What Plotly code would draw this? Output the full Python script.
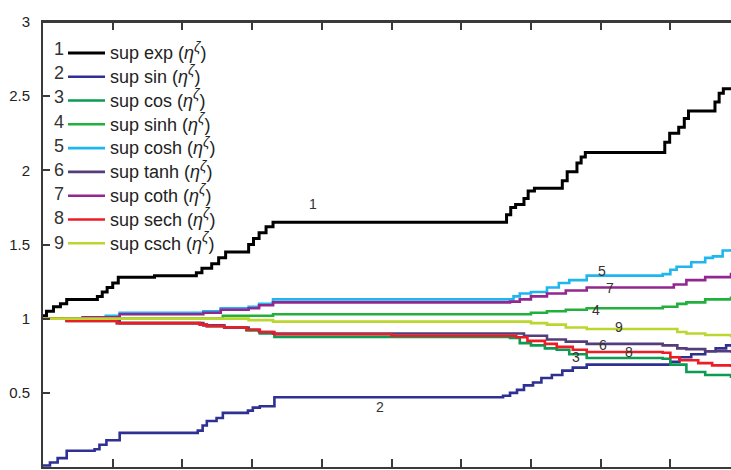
import plotly.graph_objects as go

# ---- data (x in axis units, y values) ----
names = ["exp", "sin", "cos", "sinh", "cosh", "tanh", "coth", "sech", "csch"]
colors = ["#000000", "#2e3192", "#0b9b52", "#22b03c", "#1fb6f0",
          "#553c7b", "#93278f", "#ee1c24", "#bcd630"]

x1 = [0, 0.05, 0.15, 0.25, 0.34, 0.78, 0.85, 0.92, 1.0, 1.08, 1.6, 2.2, 2.28, 2.42, 2.52, 2.62,
      2.95, 3.02, 3.1, 3.2, 3.3, 6.65, 6.71, 6.78, 6.9, 6.96, 7.05, 7.45, 7.52, 7.66, 7.72,
      7.78, 8.92, 8.99, 9.12, 9.2, 9.26, 9.64, 9.7, 9.76, 9.87]
y1 = [1.02, 1.05, 1.08, 1.1, 1.13, 1.15, 1.18, 1.21, 1.24, 1.28, 1.29, 1.31, 1.34, 1.37, 1.41, 1.45,
      1.5, 1.54, 1.58, 1.62, 1.65, 1.7, 1.75, 1.77, 1.81, 1.86, 1.88, 1.93, 1.99, 2.05, 2.09,
      2.12, 2.19, 2.25, 2.29, 2.35, 2.4, 2.46, 2.52, 2.55, 2.56]

x2 = [0, 0.1, 0.21, 0.34, 0.74, 0.81, 0.91, 1.1, 2.22, 2.29, 2.35, 2.49, 2.58, 2.94, 3.01,
      3.11, 3.32, 6.6, 6.7, 6.8, 6.9, 7.03, 7.15, 7.3, 7.45, 7.6, 7.8, 8.89, 9.0, 9.13, 9.3,
      9.5, 9.65, 9.8, 9.87]
y2 = [0.01, 0.03, 0.06, 0.11, 0.12, 0.15, 0.18, 0.23, 0.245, 0.28, 0.31, 0.33, 0.365, 0.38, 0.40,
      0.41, 0.47, 0.48, 0.5, 0.52, 0.55, 0.57, 0.6, 0.62, 0.65, 0.67, 0.69, 0.69, 0.71, 0.74, 0.76,
      0.78, 0.8, 0.82, 0.82]

x3 = [0, 0.34, 1.06, 2.25, 2.35, 2.6, 2.92, 3.11, 3.32, 6.7, 6.84, 7.0, 7.2, 7.37, 7.55, 7.8,
      8.89, 9.0, 9.23, 9.5, 9.87]
y3 = [1.0, 0.985, 0.97, 0.96, 0.95, 0.94, 0.92, 0.90, 0.877, 0.87, 0.835, 0.82, 0.80, 0.79, 0.76,
      0.735, 0.73, 0.69, 0.64, 0.62, 0.60]

x4 = [0, 2.58, 3.3, 6.7, 7.0, 7.23, 7.5, 7.8, 8.89, 9.1, 9.23, 9.5, 9.87]
y4 = [1.0, 1.02, 1.03, 1.03, 1.04, 1.05, 1.06, 1.07, 1.08, 1.1, 1.11, 1.13, 1.15]

x5 = [0, 0.57, 0.9, 1.1, 2.3, 2.55, 2.95, 3.1, 3.3, 6.7, 6.75, 6.84, 7.0, 7.23, 7.4, 7.55, 7.8,
      8.89, 9.0, 9.09, 9.3, 9.5, 9.61, 9.75, 9.87]
y5 = [1.0, 1.01, 1.02, 1.04, 1.05, 1.07, 1.08, 1.1, 1.13, 1.13, 1.15, 1.17, 1.18, 1.21, 1.24,
      1.26, 1.29, 1.30, 1.33, 1.35, 1.38, 1.41, 1.42, 1.46, 1.47]

x6 = [0, 0.34, 1.1, 2.3, 2.6, 2.95, 3.1, 3.3, 6.7, 6.9, 7.23, 7.5, 7.8, 8.89, 9.1, 9.23, 9.5, 9.87]
y6 = [1.0, 0.99, 0.97, 0.955, 0.94, 0.925, 0.91, 0.90, 0.90, 0.885, 0.86, 0.845, 0.83, 0.82, 0.80,
      0.795, 0.78, 0.77]

x7 = [0, 0.57, 1.1, 2.3, 2.55, 2.95, 3.1, 3.3, 6.7, 6.84, 7.0, 7.23, 7.5, 7.8, 8.95, 9.05, 9.23,
      9.5, 9.87]
y7 = [1.0, 1.01, 1.03, 1.04, 1.06, 1.07, 1.09, 1.11, 1.115, 1.13, 1.15, 1.17, 1.19, 1.21, 1.21,
      1.23, 1.26, 1.28, 1.31]

x8 = [0, 0.34, 1.06, 2.25, 2.35, 2.6, 2.92, 3.11, 3.32, 5.0, 6.7, 6.79, 6.95, 7.2, 7.37, 7.6,
      7.8, 8.89, 9.0, 9.13, 9.4, 9.6, 9.87]
y8 = [1.0, 0.985, 0.97, 0.96, 0.95, 0.94, 0.925, 0.91, 0.895, 0.885, 0.885, 0.875, 0.85, 0.83,
      0.81, 0.79, 0.775, 0.77, 0.74, 0.72, 0.70, 0.685, 0.675]

x9 = [0, 2.95, 3.3, 6.7, 7.0, 7.23, 7.5, 7.8, 8.89, 9.1, 9.23, 9.5, 9.87]
y9 = [1.0, 0.99, 0.98, 0.98, 0.97, 0.96, 0.94, 0.93, 0.93, 0.91, 0.90, 0.89, 0.875]

xs = [x1, x2, x3, x4, x5, x6, x7, x8, x9]
ys = [y1, y2, y3, y4, y5, y6, y7, y8, y9]

# curve label positions (data coordinates)
label_x = [3.87, 4.84, 7.64, 7.94, 8.02, 8.03, 8.13, 8.40, 8.26]
label_y = [1.77, 0.405, 0.74, 1.06, 1.32, 0.82, 1.21, 0.775, 0.944]

y_ticks = [0, 0.5, 1, 1.5, 2, 2.5, 3]
y_tick_text = ["0", "0.5", "1", "1.5", "2", "2.5", "3"]

FONT = "Liberation Sans, Arial, sans-serif"
AXC = "#3a3a3a"

fig = go.Figure()
for i in range(9):
    fig.add_trace(go.Scatter(
        x=xs[i], y=ys[i], mode="lines", line_shape="hv",
        line=dict(color=colors[i], width=3 if i == 0 else 2.6),
        name="<span style='font-size:18px'>sup " + names[i]
             + " (<i>η</i><sup><span style='font-size:14px'><i>ζ</i></span></sup>)</span>",
        legendgroup=str(i), legendrank=i + 1,
    ))

annotations = []
for i in range(9):
    annotations.append(dict(
        x=label_x[i], y=label_y[i], xref="x", yref="y", text=str(i + 1),
        showarrow=False, font=dict(family=FONT, size=14, color="#333333")))

# legend row numbers (pixel rows of the reference legend)
row_px = [49, 73, 97, 122, 146, 170, 194, 218, 243]
for i, py in enumerate(row_px):
    annotations.append(dict(
        x=(58.5 - 43) / 688, y=(467 - py) / 445, xref="paper", yref="paper",
        text=str(i + 1), showarrow=False, xanchor="center", yanchor="middle",
        font=dict(family=FONT, size=18, color="#333333")))

fig.update_layout(
    template="none",
    width=731, height=470,
    margin=dict(l=43, r=0, t=22, b=3, autoexpand=False),
    paper_bgcolor="white", plot_bgcolor="white",
    font=dict(family=FONT, color="#222222"),
    showlegend=True,
    legend=dict(x=(63 - 43) / 688, y=(467 - 36) / 445, xanchor="left", yanchor="top",
                bgcolor="rgba(0,0,0,0)", borderwidth=0, itemwidth=37,
                tracegroupgap=0,
                font=dict(family=FONT, size=16, color="#222222")),
    annotations=annotations,
    # top frame line of the axes box
    shapes=[dict(type="line", xref="paper", yref="paper", x0=0, x1=1, y0=1, y1=1,
                 line=dict(color=AXC, width=2), layer="above")],
    xaxis=dict(range=[0, 9.87], showgrid=False, zeroline=False, showline=True,
               automargin=False, mirror="ticks",
               linecolor=AXC, linewidth=2, ticks="inside",
               ticklen=8, tickwidth=2, tickcolor=AXC, dtick=1, tick0=0,
               showticklabels=False),
    yaxis=dict(range=[0, 3], showgrid=False, zeroline=False, showline=True,
               automargin=False,
               linecolor=AXC, linewidth=2, ticks="inside", ticklen=7,
               tickwidth=2, tickcolor=AXC, tickvals=y_ticks, ticktext=y_tick_text,
               ticklabelstandoff=8, tickfont=dict(family=FONT, size=15, color="#222222")),
)

fig.write_html("out.html",
               config={"displayModeBar": False},
               post_script="document.body.style.margin='0px';"
                           "document.body.style.overflow='hidden';")
